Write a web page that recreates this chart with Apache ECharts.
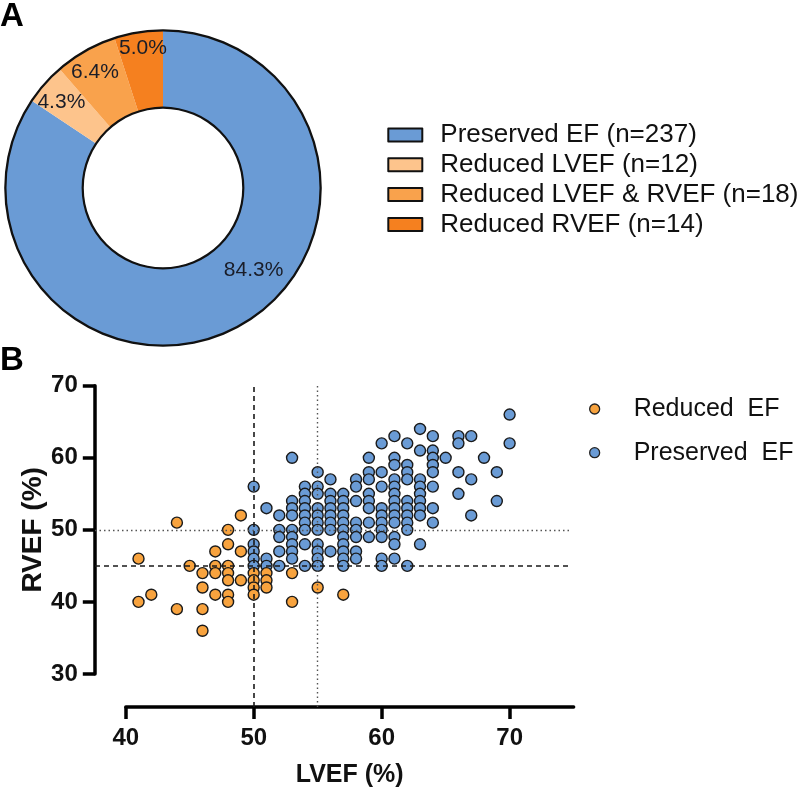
<!DOCTYPE html>
<html>
<head>
<meta charset="utf-8">
<script src="https://cdn.jsdelivr.net/npm/echarts@6/dist/echarts.min.js"></script>
<style>html,body{margin:0;padding:0;background:#fff}#c{width:800px;height:791px}</style>
</head>
<body>
<div id="c"></div>
<script>
// ---- Panel A data ----
const pieNames = ['Preserved EF (n=237)', 'Reduced LVEF (n=12)', 'Reduced LVEF & RVEF (n=18)', 'Reduced RVEF (n=14)'];
const pieValues = [237, 12, 18, 14];
const pieLabels = ['84.3%', '4.3%', '6.4%', '5.0%'];
const pieColors = ['#6a9bd5', '#fdc48c', '#f9a24c', '#f5801f'];

// ---- Panel B data: [LVEF, RVEF] ----
const reducedPoints = [
  [41,46],[41,40],[42,41],[44,51],[44,39],[45,45],
  [46,44],[46,42],[46,39],[46,36],
  [47,47],[47,45],[47,44],[47,41],
  [48,50],[48,48],[48,45],[48,44],[48,43],[48,41],[48,40],
  [49,52],[49,47],[49,43],
  [50,44],[50,43],[50,42],[50,41],
  [51,44],[51,43],[51,42],
  [53,44],[53,40],[55,42],[57,41]
];
const preservedPoints = [
  [50,56],[50,50],[50,48],[50,47],[50,46],[50,45],
  [51,53],[51,46],[51,45],
  [52,52],[52,50],[52,49],[52,47],[52,45],
  [53,60],[53,54],[53,53],[53,52],[53,50],[53,49],[53,48],[53,47],[53,46],
  [54,56],[54,55],[54,54],[54,53],[54,52],[54,51],[54,50],[54,48],[54,45],
  [55,58],[55,56],[55,55],[55,53],[55,52],[55,51],[55,50],[55,48],[55,47],[55,46],[55,45],
  [56,57],[56,55],[56,54],[56,53],[56,52],[56,51],[56,50],[56,47],
  [57,55],[57,54],[57,53],[57,52],[57,51],[57,50],[57,49],[57,48],[57,47],[57,46],[57,45],
  [58,57],[58,56],[58,54],[58,51],[58,50],[58,49],[58,47],[58,46],
  [59,60],[59,58],[59,57],[59,55],[59,54],[59,53],[59,51],[59,49],
  [60,62],[60,58],[60,56],[60,53],[60,52],[60,51],[60,50],[60,49],[60,46],[60,45],
  [61,63],[61,60],[61,59],[61,57],[61,56],[61,55],[61,54],[61,53],[61,52],[61,51],[61,49],[61,48],[61,46],
  [62,62],[62,59],[62,58],[62,57],[62,54],[62,53],[62,52],[62,51],[62,50],[62,45],
  [63,64],[63,61],[63,57],[63,56],[63,55],[63,54],[63,53],[63,52],[63,48],
  [64,63],[64,61],[64,60],[64,59],[64,58],[64,56],[64,53],[64,51],
  [65,60],[66,63],[66,62],[66,58],[66,55],[67,63],[67,57],[67,52],
  [68,60],[69,58],[69,54],[70,66],[70,62]
];
const scatterNames = ['Reduced  EF', 'Preserved  EF'];
const scatterColors = ['#f8a33e', '#6a9bd5'];
const lvefCut = [50, 55];   // vertical reference lines
const rvefCut = [45, 50];   // horizontal reference lines
const xTicks = [40, 50, 60, 70];

const labelOffsets = [[33, -25], [-10, -5], [-8, -10], [-1, -19.5]];
const FONT = '"Liberation Sans", Arial, sans-serif';

const X0 = 37.6, X1 = 75, Y0 = 25.42, Y1 = 70;

const chart = echarts.init(document.getElementById('c'), null, {renderer: 'canvas'});

const dashStyle = {color: '#1a1a1a', width: 1.6, type: [5, 4]};
const dotStyle = {color: '#555', width: 1.4, type: [1.5, 3]};

const option = {
  animation: false,
  backgroundColor: '#fff',
  textStyle: {fontFamily: FONT},
  graphic: [
    {type: 'text', left: 0, top: 0, style: {text: 'A', font: 'bold 33px ' + FONT, fill: '#000'}},
    {type: 'text', left: 0, top: 344, style: {text: 'B', font: 'bold 33px ' + FONT, fill: '#000'}}
  ],
  legend: [
    {
      data: pieNames,
      orient: 'vertical',
      left: 382.3, top: 117,
      itemWidth: 34, itemHeight: 13, itemGap: 3.8,
      icon: 'rect',
      itemStyle: {borderColor: '#111', borderWidth: 2},
      textStyle: {fontSize: 26, color: '#111', lineHeight: 26, padding: [0, 0, 0, 13], fontFamily: FONT},
      selectedMode: false
    },
    {
      data: scatterNames,
      orient: 'vertical',
      left: 584, top: 391,
      itemWidth: 10, itemHeight: 10, itemGap: 17.7,
      icon: 'circle',
      itemStyle: {borderColor: '#222', borderWidth: 1.3},
      textStyle: {fontSize: 25, color: '#111', lineHeight: 26, padding: [0, 0, 0, 29], fontFamily: FONT},
      selectedMode: false
    }
  ],
  grid: [
    {left: 95, right: 226.4, top: 385.7, bottom: 84},
    {left: 125.8, right: 226.4, top: 385.7, bottom: 117}
  ],
  xAxis: [
    {gridIndex: 0, type: 'value', min: X0, max: X1, show: false},
    {
      gridIndex: 1, type: 'value', min: 40, max: 75, interval: 10, offset: 33,
      axisLine: {show: true, lineStyle: {color: '#000', width: 3.5}},
      axisTick: {show: true, length: 12, lineStyle: {color: '#000', width: 3.5}, customValues: xTicks},
      axisLabel: {fontSize: 24, fontWeight: 'bold', color: '#111', margin: 19, customValues: xTicks, fontFamily: FONT},
      splitLine: {show: false},
      name: 'LVEF (%)', nameLocation: 'middle', nameGap: 56, nameMoveOverlap: false,
      nameTextStyle: {fontSize: 25, fontWeight: 'bold', color: '#111', fontFamily: FONT}
    }
  ],
  yAxis: [
    {gridIndex: 0, type: 'value', min: Y0, max: Y1, show: false},
    {
      gridIndex: 1, type: 'value', min: 30, max: 70, interval: 10, offset: 31,
      axisLine: {show: true, lineStyle: {color: '#000', width: 3.5}},
      axisTick: {show: true, length: 12, lineStyle: {color: '#000', width: 3.5}},
      axisLabel: {fontSize: 24, fontWeight: 'bold', color: '#111', margin: 17, fontFamily: FONT},
      splitLine: {show: false},
      name: 'RVEF (%)', nameLocation: 'middle', nameGap: 48, nameMoveOverlap: false,
      nameTextStyle: {fontSize: 28, fontWeight: 'bold', color: '#111', fontFamily: FONT}
    }
  ],
  series: [
    {
      type: 'pie',
      center: [163, 188],
      radius: [80, 158],
      startAngle: 90,
      clockwise: true,
      silent: true,
      data: pieValues.map((v, i) => ({
        name: pieNames[i], value: v,
        itemStyle: {color: pieColors[i]},
        label: {offset: labelOffsets[i]}
      })),
      label: {
        show: true, position: 'inside', rotate: 0,
        formatter: p => pieLabels[p.dataIndex],
        fontSize: 21, color: '#1a1d28', fontFamily: FONT
      },
      labelLine: {show: false},
      itemStyle: {borderWidth: 0},
      emphasis: {disabled: true}
    },
    {
      type: 'pie', center: [163, 188], radius: [156.5, 158.8], silent: true,
      label: {show: false}, labelLine: {show: false},
      data: [{value: 1, name: 'outerRing', itemStyle: {color: '#111'}}],
      emphasis: {disabled: true}
    },
    {
      type: 'pie', center: [163, 188], radius: [79.2, 81.4], silent: true,
      label: {show: false}, labelLine: {show: false},
      data: [{value: 1, name: 'innerRing', itemStyle: {color: '#111'}}],
      emphasis: {disabled: true}
    },
    {
      name: scatterNames[1],
      type: 'scatter',
      xAxisIndex: 0, yAxisIndex: 0,
      data: preservedPoints,
      symbolSize: 11,
      itemStyle: {color: scatterColors[1], borderColor: '#1a1a1a', borderWidth: 1.4, opacity: 1},
      emphasis: {disabled: true},
      markLine: {
        silent: true, symbol: 'none', label: {show: false}, animation: false,
        data: [
          [{coord: [lvefCut[0], Y0], lineStyle: dashStyle}, {coord: [lvefCut[0], Y1]}],
          [{coord: [lvefCut[1], Y0], lineStyle: dotStyle}, {coord: [lvefCut[1], Y1]}],
          [{coord: [X0, rvefCut[0]], lineStyle: dashStyle}, {coord: [74.7, rvefCut[0]]}],
          [{coord: [X0, rvefCut[1]], lineStyle: dotStyle}, {coord: [74.7, rvefCut[1]]}]
        ]
      },
      z: 2
    },
    {
      name: scatterNames[0],
      type: 'scatter',
      xAxisIndex: 0, yAxisIndex: 0,
      data: reducedPoints,
      symbolSize: 11,
      itemStyle: {color: scatterColors[0], borderColor: '#1a1a1a', borderWidth: 1.4, opacity: 1},
      emphasis: {disabled: true},
      z: 3
    }
  ]
};
chart.setOption(option);
</script>
</body>
</html>
